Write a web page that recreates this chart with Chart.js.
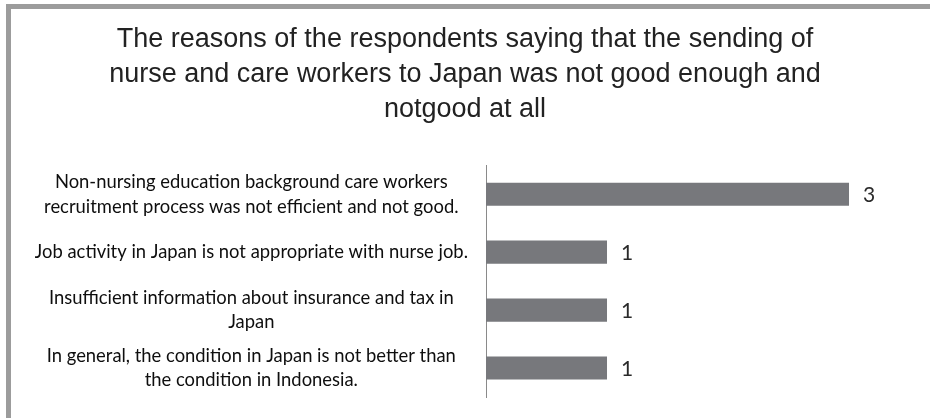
<!DOCTYPE html>
<html>
<head>
<meta charset="utf-8">
<script src="https://cdn.jsdelivr.net/npm/chart.js@4.4.1/dist/chart.umd.min.js"></script>
<style>
  html, body { margin: 0; padding: 0; background: #ffffff; }
  #wrap { position: relative; width: 930px; height: 418px; overflow: hidden; }
  #frame {
    position: absolute; left: 6px; top: 4px; right: -10px; bottom: -10px;
    border-top: 5px solid #9c9c9c; border-left: 5px solid #9c9c9c;
  }
  canvas { position: absolute; left: 0; top: 0; }
</style>
</head>
<body>
<div id="wrap">
  <div id="frame"></div>
  <canvas id="chart" width="930" height="418"></canvas>
</div>
<script>
// Reasons given (each entry may span several lines)
const categories = [
  ["Non-nursing education background care workers", "recruitment process was not efficient and not good."],
  "Job activity in Japan is not appropriate with nurse job.",
  ["Insufficient information about insurance and tax in", "Japan"],
  ["In general, the condition in Japan is not better than", "the condition in Indonesia."]
];
// Number of respondents per reason
const counts = [3, 1, 1, 1];
const titleLines = [
  "The reasons of the respondents saying that the sending of",
  "nurse and care workers to Japan was not good enough and",
  "notgood at all"
];

// Writes each bar's value just past its end
const valueLabels = {
  id: 'valueLabels',
  afterDatasetsDraw(chart) {
    const ctx = chart.ctx;
    const meta = chart.getDatasetMeta(0);
    ctx.save();
    ctx.font = '21px Lato, "Open Sans", sans-serif';
    ctx.fillStyle = '#2a2a2a';
    ctx.textAlign = 'left';
    ctx.textBaseline = 'middle';
    meta.data.forEach((bar, i) => {
      ctx.fillText(String(chart.data.datasets[0].data[i]), bar.x + 14, bar.y + 1);
    });
    ctx.restore();
  }
};

new Chart(document.getElementById('chart'), {
  type: 'bar',
  data: {
    labels: categories,
    datasets: [{
      data: counts,
      backgroundColor: '#77787c',
      borderWidth: 0,
      categoryPercentage: 0.8,
      barPercentage: 0.5
    }]
  },
  options: {
    indexAxis: 'y',
    responsive: false,
    animation: false,
    layout: { padding: { left: 35, right: 35, top: 0, bottom: 21 } },
    plugins: {
      legend: { display: false },
      tooltip: { enabled: false },
      title: {
        display: true,
        text: titleLines,
        color: '#222222',
        font: { family: '"Liberation Sans", Arial, sans-serif', size: 27, weight: 'normal', lineHeight: 1.3 },
        padding: { top: 22, bottom: 38 }
      }
    },
    scales: {
      x: {
        display: false,
        min: 0,
        max: 3.38
      },
      y: {
        grid: { display: false, drawTicks: false },
        border: { display: true, color: '#8a8a8a', width: 1 },
        afterFit(scale) {
          // wide label column; multi-line labels may overhang the plot ends
          scale.width = 451;
          scale.paddingTop = 0;
          scale.paddingBottom = 0;
        },
        ticks: {
          crossAlign: 'center',
          padding: 18,
          color: '#0e0e0e',
          font: { family: 'Lato, "Open Sans", sans-serif', size: 18.4, lineHeight: 1.35 }
        }
      }
    }
  },
  plugins: [valueLabels]
});
</script>
</body>
</html>
